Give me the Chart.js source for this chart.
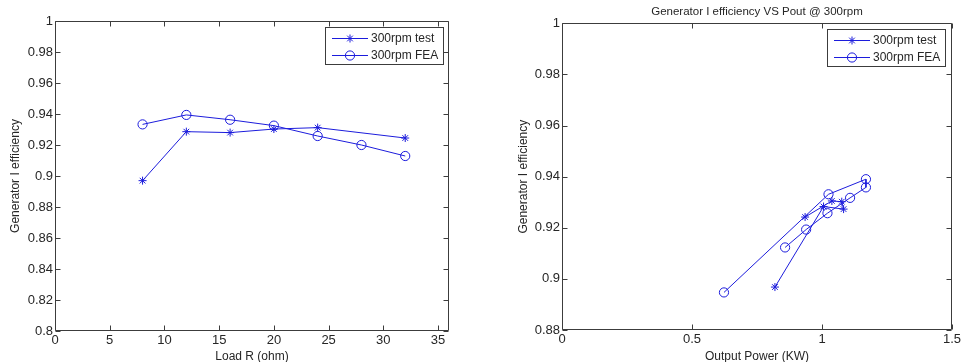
<!DOCTYPE html>
<html>
<head>
<meta charset="utf-8">
<script src="https://cdn.jsdelivr.net/npm/chart.js@4.4.0/dist/chart.umd.min.js"></script>
<style>
html,body{margin:0;padding:0;background:#fff;}
#wrap{position:relative;width:961px;height:362px;overflow:hidden;background:#fff;}
#c1wrap{position:absolute;left:0;top:0;width:480px;height:362px;}
#c2wrap{position:absolute;left:480px;top:0;width:481px;height:362px;}
canvas{display:block;}
</style>
</head>
<body>
<div id="wrap">
  <div id="c1wrap"><canvas id="c1" width="480" height="362"></canvas></div>
  <div id="c2wrap"><canvas id="c2" width="481" height="362"></canvas></div>
</div>
<script>
// ---- Data ----
// Left chart: efficiency vs load resistance
const loadR_test = [8, 12, 16, 20, 24, 32];
const eff_test   = [0.897, 0.9286, 0.928, 0.9303, 0.9312, 0.9245];
const loadR_fea  = [8, 12, 16, 20, 24, 28, 32];
const eff_fea    = [0.9333, 0.9394, 0.9363, 0.9325, 0.9258, 0.920, 0.9129];

// Right chart: efficiency vs output power
const pout_test     = [0.819, 1.006, 1.083, 1.076, 1.038, 0.935];
const eff_test_pout = [0.8968, 0.9283, 0.9273, 0.9302, 0.9305, 0.9242];
const pout_fea      = [0.623, 1.025, 1.169, 1.169, 1.108, 1.021, 0.939, 0.858];
const eff_fea_pout  = [0.8947, 0.9331, 0.939, 0.9358, 0.9317, 0.9257, 0.9193, 0.9123];

// Series labels / titles
const seriesLabels = ['300rpm test', '300rpm FEA'];
const leftXTitle = 'Load R (ohm)';
const rightXTitle = 'Output Power (KW)';
const yTitle = 'Generator I efficiency';
const rightTitle = 'Generator I efficiency VS Pout @ 300rpm';

// Tick values
const leftXTicks  = [0, 5, 10, 15, 20, 25, 30, 35];
const leftYTicks  = [0.8, 0.82, 0.84, 0.86, 0.88, 0.9, 0.92, 0.94, 0.96, 0.98, 1];
const rightXTicks = [0, 0.5, 1, 1.5];
const rightYTicks = [0.88, 0.9, 0.92, 0.94, 0.96, 0.98, 1];

// ---- Styling ----
const BLUE = '#1c1cdc';
const TXT = '#262626';
const FRAME = '#3c3c3c';
const FONT = "'Liberation Sans', Arial, Helvetica, sans-serif";
Chart.defaults.font.family = FONT;
Chart.defaults.color = TXT;

const tickLabel = v => String(Number(Number(v).toFixed(2)));
const toPts = (xs, ys) => xs.map((x, i) => ({x: x, y: ys[i]}));

function snap(v){ return Math.round(v) + 0.5; }

// MATLAB-like box with inward ticks on all four sides
const matlabFrame = {
  id: 'matlabFrame',
  afterDatasetsDraw(chart) {
    const {ctx, chartArea: a} = chart;
    const xs = chart.scales.x, ys = chart.scales.y;
    const L = snap(a.left), R = snap(a.right - 1), T = snap(a.top), B = snap(a.bottom - 1);
    const tl = 5;
    ctx.save();
    ctx.strokeStyle = FRAME;
    ctx.lineWidth = 1;
    ctx.beginPath();
    ctx.rect(L, T, R - L, B - T);
    xs.ticks.forEach(t => {
      const px = snap(xs.getPixelForValue(t.value));
      ctx.moveTo(px, B); ctx.lineTo(px, B - tl);
      ctx.moveTo(px, T); ctx.lineTo(px, T + tl);
    });
    ys.ticks.forEach(t => {
      const py = snap(ys.getPixelForValue(t.value));
      ctx.moveTo(L, py); ctx.lineTo(L + tl, py);
      ctx.moveTo(R, py); ctx.lineTo(R - tl, py);
    });
    ctx.stroke();
    ctx.restore();
  }
};

// MATLAB-like boxed legend inside the top-right corner of the plot
const matlabLegend = {
  id: 'matlabLegend',
  afterDraw(chart, args, opts) {
    const {ctx, chartArea: a} = chart;
    ctx.save();
    ctx.font = '12px ' + FONT;
    const dsets = chart.data.datasets;
    let maxW = 0;
    dsets.forEach(d => { maxW = Math.max(maxW, ctx.measureText(d.label).width); });
    const w = Math.round(47 + maxW + 5);
    const h = 38;
    const right = Math.round(a.right - opts.right);
    const left = right - w;
    const top = Math.round(a.top + opts.top);
    ctx.fillStyle = '#fff';
    ctx.fillRect(left, top, w, h);
    ctx.strokeStyle = FRAME;
    ctx.lineWidth = 1;
    ctx.strokeRect(left + 0.5, top + 0.5, w - 1, h - 1);
    dsets.forEach((d, i) => {
      const cy = top + 11 + i * 16.7;
      ctx.strokeStyle = d.borderColor;
      ctx.lineWidth = 1;
      ctx.beginPath();
      ctx.moveTo(left + 7, Math.round(cy) + 0.5);
      ctx.lineTo(left + 43, Math.round(cy) + 0.5);
      ctx.stroke();
      ctx.fillStyle = d.backgroundColor;
      ctx.strokeStyle = d.borderColor;
      Chart.helpers.drawPoint(ctx, {pointStyle: d.pointStyle, radius: d.pointRadius, borderWidth: 1, rotation: 0}, left + 25, Math.round(cy) + 0.5);
      ctx.fillStyle = TXT;
      ctx.textBaseline = 'middle';
      ctx.textAlign = 'left';
      ctx.fillText(d.label, left + 46, cy + 1);
    });
    ctx.restore();
  }
};

function makeDatasets(tx, ty, fx, fy) {
  return [
    {
      label: seriesLabels[0], data: toPts(tx, ty), showLine: true,
      borderColor: BLUE, backgroundColor: BLUE, borderWidth: 1,
      pointStyle: 'star', pointRadius: 4, pointHoverRadius: 4, pointBorderWidth: 1
    },
    {
      label: seriesLabels[1], data: toPts(fx, fy), showLine: true,
      borderColor: BLUE, backgroundColor: 'rgba(0,0,0,0)', borderWidth: 1,
      pointStyle: 'circle', pointRadius: 4.6, pointHoverRadius: 4.6, pointBorderWidth: 1
    }
  ];
}

function makeScales(cfg) {
  return {
    x: {
      type: 'linear', position: 'bottom', min: cfg.xMin, max: cfg.xMax,
      afterBuildTicks: s => { s.ticks = cfg.xTicks.map(v => ({value: v})); },
      afterFit: s => { s.height = cfg.xH; s.paddingLeft = 0; s.paddingRight = 0; s.paddingTop = 0; s.paddingBottom = 0; },
      grid: {display: false, drawTicks: false},
      border: {display: false},
      ticks: {padding: 2, color: TXT, font: {size: 13}, autoSkip: false, maxRotation: 0, minRotation: 0,
              callback: v => tickLabel(v)},
      title: {display: true, text: cfg.xTitle, color: TXT, font: {size: 12, lineHeight: 0.9}, padding: 0}
    },
    y: {
      type: 'linear', position: 'left', min: cfg.yMin, max: cfg.yMax,
      afterBuildTicks: s => { s.ticks = cfg.yTicks.map(v => ({value: v})); },
      afterFit: s => { s.width = cfg.yW; s.paddingLeft = 0; s.paddingRight = 0; s.paddingTop = 0; s.paddingBottom = 0; },
      grid: {display: false, drawTicks: false},
      border: {display: false},
      ticks: {padding: 2, color: TXT, font: {size: 13}, autoSkip: false,
              callback: v => tickLabel(v)},
      title: {display: true, text: yTitle, color: TXT, font: {size: 12, lineHeight: 1}, padding: {top: cfg.yTitlePad, bottom: 0}}
    }
  };
}

new Chart(document.getElementById('c1'), {
  type: 'scatter',
  data: {datasets: makeDatasets(loadR_test, eff_test, loadR_fea, eff_fea)},
  options: {
    responsive: false, animation: false, devicePixelRatio: 1,
    layout: {padding: {left: 0, top: 21, right: 31, bottom: 0}},
    scales: makeScales({xMin: 0, xMax: 36, yMin: 0.8, yMax: 1, xTicks: leftXTicks, yTicks: leftYTicks,
                        xH: 31, yW: 55, xTitle: leftXTitle, yTitlePad: 10}),
    plugins: {
      legend: {display: false}, tooltip: {enabled: false},
      matlabLegend: {right: 5, top: 6}
    },
    events: []
  },
  plugins: [matlabFrame, matlabLegend]
});

new Chart(document.getElementById('c2'), {
  type: 'scatter',
  data: {datasets: makeDatasets(pout_test, eff_test_pout, pout_fea, eff_fea_pout)},
  options: {
    responsive: false, animation: false, devicePixelRatio: 1,
    layout: {padding: {left: 0, top: 0, right: 9, bottom: 0}},
    scales: makeScales({xMin: 0, xMax: 1.5, yMin: 0.88, yMax: 1, xTicks: rightXTicks, yTicks: rightYTicks,
                        xH: 32, yW: 82, xTitle: rightXTitle, yTitlePad: 37.5}),
    plugins: {
      legend: {display: false}, tooltip: {enabled: false},
      title: {display: true, text: rightTitle, fullSize: false, color: TXT,
              font: {size: 11.5, weight: 'normal', lineHeight: 1.2}, padding: {top: 4.5, bottom: 5}},
      matlabLegend: {right: 6, top: 6}
    },
    events: []
  },
  plugins: [matlabFrame, matlabLegend]
});
</script>
</body>
</html>
